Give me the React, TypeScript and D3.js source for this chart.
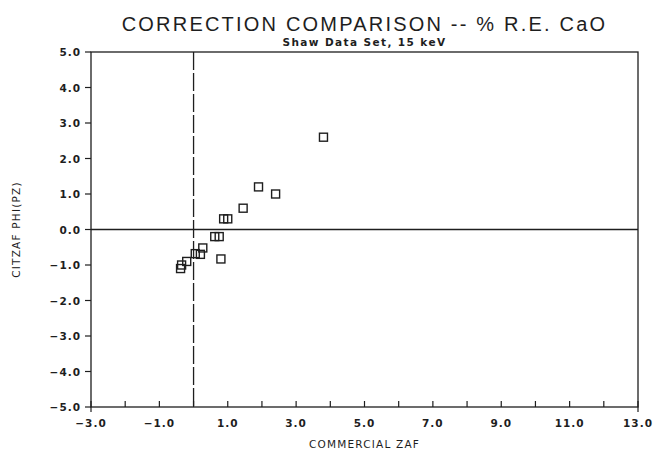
import React from "react";
import * as d3 from "d3";

// valores (% R.E. CaO)
const commercialZaf = [3.8, 1.9, 2.4, 1.45, 0.88, 1.0, 0.62, 0.75, 0.8, 0.27, 0.2, 0.05, -0.2, -0.35, -0.38];
const citzafPhiPz = [2.6, 1.2, 1.0, 0.6, 0.3, 0.3, -0.2, -0.2, -0.83, -0.52, -0.7, -0.68, -0.9, -1.0, -1.1];
const xTickLabels = [-3, -1, 1, 3, 5, 7, 9, 11, 13];
const yTickLabels = [5, 4, 3, 2, 1, 0, -1, -2, -3, -4, -5];

const W = 653;
const H = 460;
const margin = {left: 91, right: 15, top: 52, bottom: 53};

const fmt = (v: number) => (v < 0 ? "\u2212" + Math.abs(v).toFixed(1) : v.toFixed(1));

export default function App() {
    const x = d3.scaleLinear().domain([-3, 13]).range([margin.left, W - margin.right]);
    const y = d3.scaleLinear().domain([-5, 5]).range([H - margin.bottom, margin.top]);
    const ink = "#1e1e1e";
    const xMinor = d3.range(-3, 14, 1);
    const cx = (x(-3) + x(13)) / 2;

    return (
        <svg width={W} height={H} style={{position: "absolute", left: 0, top: 0, background: "white"}}>
            {/* titulos */}
            <text x={cx} y={31} textAnchor="middle" fontFamily="Liberation Sans" fontSize={20}
                  letterSpacing={2.2} fill={ink}>CORRECTION COMPARISON -- % R.E. CaO</text>
            <text x={cx} y={46} textAnchor="middle" fontFamily="DejaVu Sans" fontWeight="bold"
                  fontSize={10.5} letterSpacing={1.4} fill={ink}>Shaw Data Set, 15 keV</text>

            {/* marco */}
            <rect x={x(-3)} y={y(5)} width={x(13) - x(-3)} height={y(-5) - y(5)} fill="none" stroke={ink}
                  strokeWidth={1.3}/>
            {/* lineas de cero */}
            <line x1={x(-3)} x2={x(13)} y1={y(0)} y2={y(0)} stroke={ink} strokeWidth={1.3}/>
            <line x1={x(0)} x2={x(0)} y1={y(5)} y2={y(-5)} stroke={ink} strokeWidth={1.3} strokeDasharray="18,3"/>

            {/* eje x */}
            {xMinor.map(v => (
                <line key={"xt" + v} x1={x(v)} x2={x(v)} y1={y(-5)} y2={y(-5) - 6} stroke={ink} strokeWidth={1.2}/>
            ))}
            <line x1={x(-3)} x2={x(-3)} y1={y(-5)} y2={y(-5) + 5} stroke={ink} strokeWidth={1.2}/>
            <line x1={x(13)} x2={x(13)} y1={y(-5)} y2={y(-5) + 5} stroke={ink} strokeWidth={1.2}/>
            {xTickLabels.map(v => (
                <text key={"xl" + v} x={x(v)} y={y(-5) + 20} textAnchor="middle" fontFamily="DejaVu Sans"
                      fontWeight="bold" fontSize={10.5} letterSpacing={1} fill={ink}>{fmt(v)}</text>
            ))}
            <text x={cx} y={448} textAnchor="middle" fontFamily="DejaVu Sans" fontSize={10.5}
                  letterSpacing={1.2} fill={ink}>COMMERCIAL ZAF</text>

            {/* eje y */}
            {yTickLabels.map(v => (
                <g key={"yl" + v}>
                    <line x1={x(-3) - 6} x2={x(-3)} y1={y(v)} y2={y(v)} stroke={ink} strokeWidth={1.2}/>
                    <text x={x(-3) - 10} y={y(v) + 4} textAnchor="end" fontFamily="DejaVu Sans" fontWeight="bold"
                          fontSize={10.5} letterSpacing={1} fill={ink}>{fmt(v)}</text>
                </g>
            ))}
            <text transform={`translate(20, ${y(0)}) rotate(-90)`} textAnchor="middle" fontFamily="DejaVu Sans"
                  fontSize={10.5} letterSpacing={1.2} fill={ink}>CITZAF PHI(PZ)</text>

            {/* puntos */}
            {commercialZaf.map((v, i) => (
                <rect key={"p" + i} x={x(v) - 4} y={y(citzafPhiPz[i]) - 4} width={8} height={8} fill="none"
                      stroke={ink} strokeWidth={1.4}/>
            ))}
        </svg>
    );
}
